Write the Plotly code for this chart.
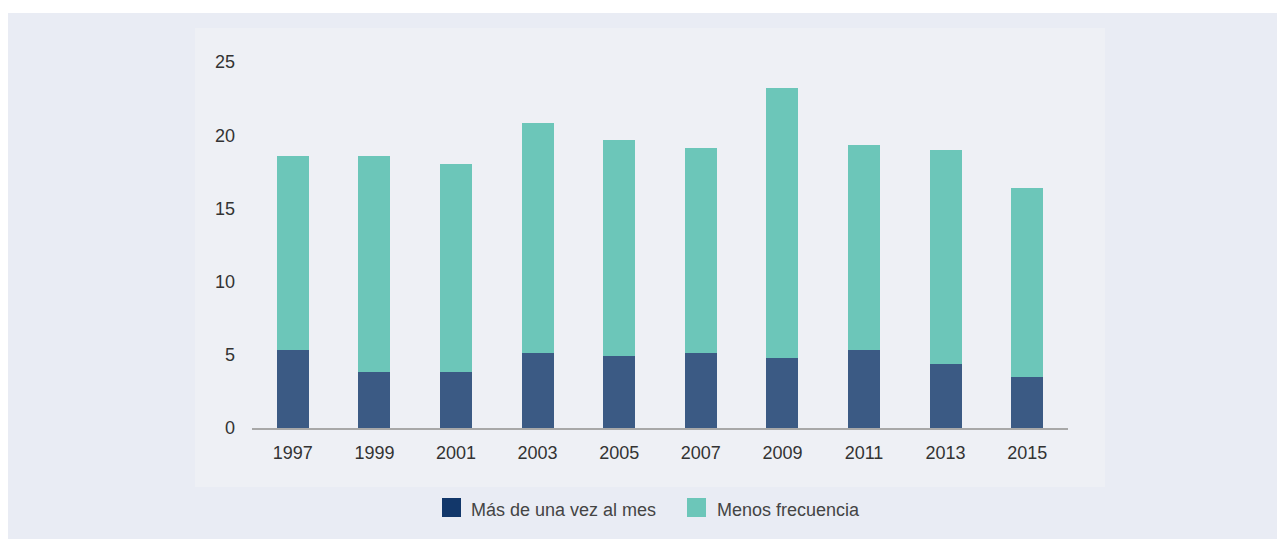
import plotly.graph_objects as go

years = ["1997", "1999", "2001", "2003", "2005", "2007", "2009", "2011", "2013", "2015"]
mas_de_una_vez = [5.3, 3.8, 3.8, 5.1, 4.9, 5.1, 4.8, 5.3, 4.4, 3.5]
totales = [18.6, 18.6, 18.0, 20.8, 19.7, 19.1, 23.2, 19.3, 19.0, 16.4]
menos_frecuencia = [round(t - m, 2) for t, m in zip(totales, mas_de_una_vez)]
series_names = ["Más de una vez al mes", "Menos frecuencia"]
y_ticks = [0, 5, 10, 15, 20, 25]

W, H = 1285, 539
OFF = 8  # page body margin offset
L, R, T, B = 252 - OFF, 1068 - OFF, 62 - OFF, 428 - OFF
pw, ph = R - L, B - T

def px(x):
    return (x - OFF - L) / pw

def py(y):
    return (B - (y - OFF)) / ph

dark = "#3b5a84"
teal = "#6cc6b9"
font_family = "Liberation Sans, Arial, sans-serif"

fig = go.Figure()
fig.add_trace(go.Bar(x=years, y=mas_de_una_vez, name=series_names[0], marker=dict(color=dark, line=dict(width=0)), width=0.39, showlegend=False))
fig.add_trace(go.Bar(x=years, y=menos_frecuencia, name=series_names[1], marker=dict(color=teal, line=dict(width=0)), width=0.39, showlegend=False))

shapes = [
    dict(type="rect", xref="paper", yref="paper", x0=px(7), x1=px(W + 20), y0=py(13), y1=py(H + 20),
         fillcolor="#e9ecf4", line=dict(width=0), layer="below"),
    dict(type="rect", xref="paper", yref="paper", x0=px(195), x1=px(1105), y0=py(28), y1=py(487),
         fillcolor="#eef0f5", line=dict(width=0), layer="below"),
    dict(type="rect", xref="paper", yref="paper", x0=px(442), x1=px(461), y0=py(498), y1=py(517),
         fillcolor="#12376a", line=dict(width=0)),
    dict(type="rect", xref="paper", yref="paper", x0=px(687), x1=px(706), y0=py(498), y1=py(517),
         fillcolor=teal, line=dict(width=0)),
]
annotations = [
    dict(xref="paper", yref="paper", x=px(469), y=py(510), text=series_names[0], showarrow=False,
         xanchor="left", yanchor="middle", font=dict(size=18, color="#444444", family=font_family)),
    dict(xref="paper", yref="paper", x=px(715), y=py(510), text=series_names[1], showarrow=False,
         xanchor="left", yanchor="middle", font=dict(size=18, color="#444444", family=font_family)),
]

fig.update_layout(
    width=W, height=H,
    margin=dict(l=L, r=W - R, t=T, b=H - B, pad=0),
    barmode="stack",
    paper_bgcolor="white",
    plot_bgcolor="rgba(0,0,0,0)",
    font=dict(family=font_family, size=18, color="#333333"),
    shapes=shapes,
    annotations=annotations,
    xaxis=dict(type="category", range=[-0.5, 9.5], showgrid=False, showline=True, linecolor="#a8a8a8",
               linewidth=2, ticks="", ticklabelstandoff=7, tickfont=dict(size=18, color="#333333"), zeroline=False),
    yaxis=dict(range=[0, 25], tickvals=y_ticks, showgrid=False, showline=False, zeroline=False, ticks="",
               ticklabelstandoff=16, tickfont=dict(size=18, color="#333333")),
)

fig.write_html("out.html")
